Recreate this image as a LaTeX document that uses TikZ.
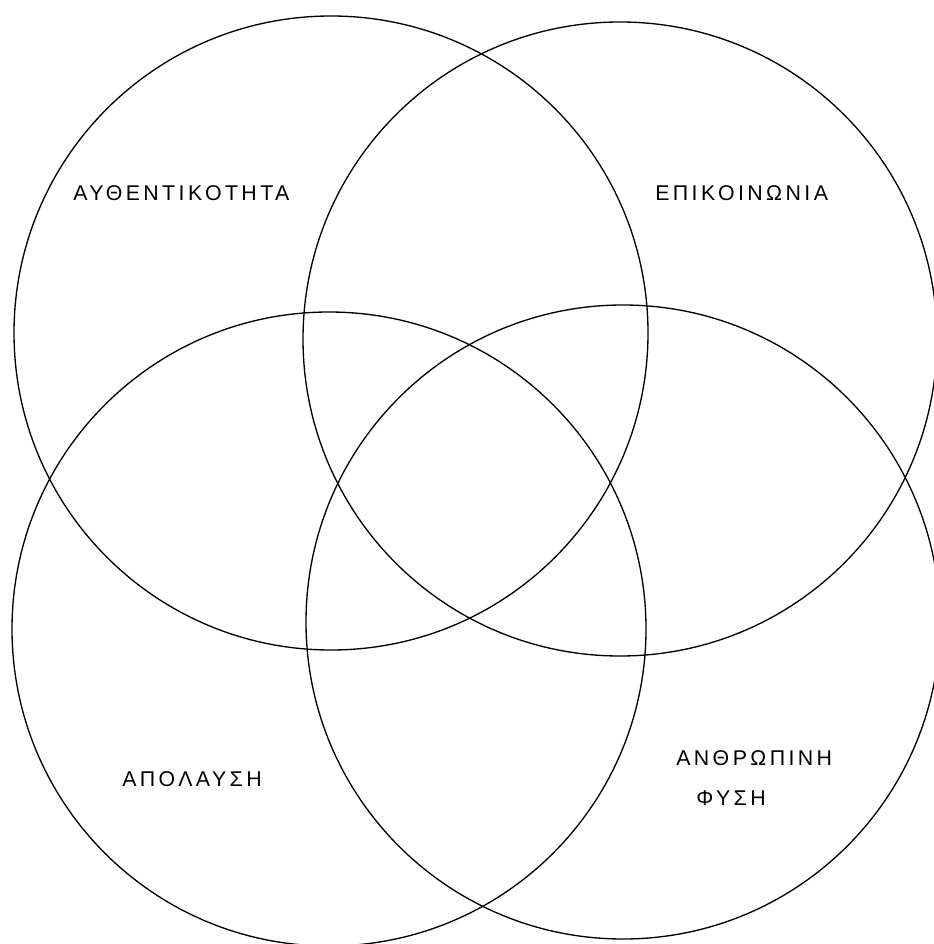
\documentclass[tikz,border=0pt]{standalone}
\usepackage{fontspec}
\setmainfont{Liberation Sans}[LetterSpace=16]
\begin{document}
\begin{tikzpicture}[x=0.75pt,y=-0.75pt,
  ring/.style={draw=black,line width=1pt,circle,minimum size=634*0.75pt,inner sep=0pt},
  lbl/.style={anchor=west,inner sep=0pt,font=\fontsize{16pt}{19pt}\selectfont}]
\useasboundingbox (0,0) rectangle (933,944);
\fill[white] (0,0) rectangle (933,944);
\node[ring] (c1) at (331,333) {};
\node[ring] (c2) at (620,339) {};
\node[ring] (c3) at (329,629) {};
\node[ring] (c4) at (623,622) {};
\node[lbl] (t1) at (73,193) {ΑΥΘΕΝΤΙΚΟΤΗΤΑ};
\node[lbl] (t2) at (655,193) {ΕΠΙΚΟΙΝΩΝΙΑ};
\node[lbl] (t3) at (122,779) {ΑΠΟΛΑΥΣΗ};
\node[lbl] (t4) at (676,758) {ΑΝΘΡΩΠΙΝΗ};
\node[lbl] (t5) at (696,798) {ΦΥΣΗ};
\end{tikzpicture}
\end{document}
